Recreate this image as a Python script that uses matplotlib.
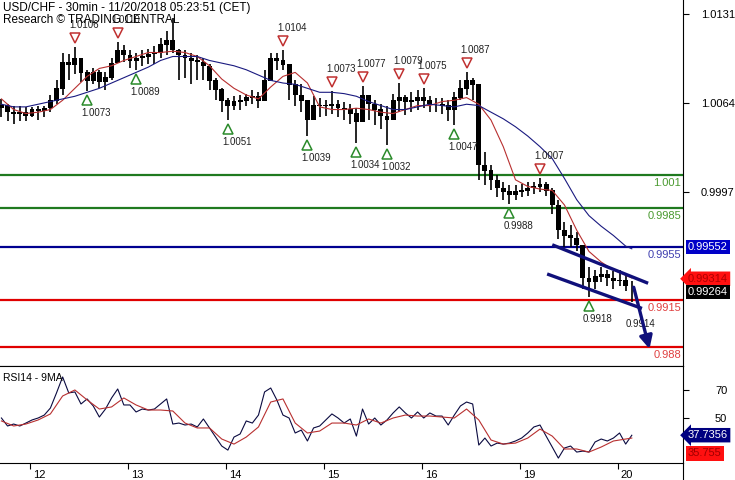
import numpy as np
import matplotlib
matplotlib.use("Agg")
import matplotlib.pyplot as plt
from matplotlib.transforms import ScaledTranslation, blended_transform_factory
from matplotlib.lines import Line2D

plt.rcParams["font.family"] = ["Liberation Sans", "DejaVu Sans"]

# USD/CHF 30-min bars, sampled every 3 bars (1.5 h). bar 14 = Nov 12 00:00
step = 3
open0 = 1.0060
high = [
    1.0067, 1.0063, 1.0062, 1.0062, 1.0061, 1.0061, 1.0062, 1.0062, 1.0070, 1.0081,
    1.0102, 1.0101, 1.0106, 1.0098, 1.0089, 1.0090, 1.0089, 1.0087, 1.0098, 1.0110,
    1.0108, 1.0104, 1.0102, 1.0104, 1.0105, 1.0107, 1.0113, 1.0118, 1.0128, 1.0105,
    1.0104, 1.0102, 1.0100, 1.0098, 1.0093, 1.0083, 1.0075, 1.0068, 1.0069, 1.0070,
    1.0071, 1.0074, 1.0072, 1.0089, 1.0102, 1.0102, 1.0104, 1.0093, 1.0081, 1.0078,
    1.0066, 1.0069, 1.0068, 1.0066, 1.0073, 1.0066, 1.0065, 1.0063, 1.0060, 1.0077,
    1.0070, 1.0066, 1.0063, 1.0062, 1.0071, 1.0079, 1.0070, 1.0072, 1.0074, 1.0075,
    1.0069, 1.0068, 1.0068, 1.0066, 1.0072, 1.0081, 1.0087, 1.0083, 1.0078, 1.0027,
    1.0017, 1.0010, 1.0004, 1.0002, 1.0002, 1.0003, 1.0004, 1.0004, 1.0007, 1.0004,
    1.0000, 0.9991, 0.9974, 0.9972, 0.9967, 0.9957, 0.9940, 0.9938, 0.9940, 0.9938,
    0.9937, 0.9938, 0.9935, 0.9930]
low = [
    1.0053, 1.0050, 1.0048, 1.0050, 1.0050, 1.0053, 1.0051, 1.0053, 1.0057, 1.0063,
    1.0070, 1.0081, 1.0086, 1.0080, 1.0073, 1.0078, 1.0075, 1.0074, 1.0081, 1.0094,
    1.0095, 1.0090, 1.0089, 1.0092, 1.0093, 1.0093, 1.0098, 1.0100, 1.0102, 1.0081,
    1.0083, 1.0078, 1.0081, 1.0081, 1.0074, 1.0066, 1.0057, 1.0051, 1.0059, 1.0059,
    1.0062, 1.0063, 1.0060, 1.0066, 1.0081, 1.0089, 1.0089, 1.0066, 1.0062, 1.0057,
    1.0039, 1.0051, 1.0053, 1.0054, 1.0056, 1.0053, 1.0051, 1.0048, 1.0034, 1.0050,
    1.0051, 1.0047, 1.0044, 1.0032, 1.0051, 1.0057, 1.0055, 1.0057, 1.0059, 1.0060,
    1.0057, 1.0057, 1.0056, 1.0050, 1.0047, 1.0066, 1.0070, 1.0066, 1.0006, 1.0002,
    0.9998, 0.9993, 0.9991, 0.9988, 0.9991, 0.9993, 0.9994, 0.9995, 0.9997, 0.9994,
    0.9980, 0.9961, 0.9955, 0.9955, 0.9952, 0.9924, 0.9918, 0.9924, 0.9929, 0.9926,
    0.9924, 0.9926, 0.9922, 0.9914]
close = [
    1.0062, 1.0057, 1.0056, 1.0057, 1.0054, 1.0059, 1.0058, 1.0060, 1.0066, 1.0075,
    1.0095, 1.0093, 1.0098, 1.0087, 1.0081, 1.0087, 1.0080, 1.0083, 1.0094, 1.0104,
    1.0100, 1.0096, 1.0098, 1.0099, 1.0101, 1.0102, 1.0108, 1.0111, 1.0104, 1.0100,
    1.0098, 1.0096, 1.0095, 1.0092, 1.0081, 1.0074, 1.0066, 1.0062, 1.0065, 1.0066,
    1.0068, 1.0069, 1.0066, 1.0081, 1.0098, 1.0096, 1.0093, 1.0078, 1.0070, 1.0066,
    1.0051, 1.0062, 1.0062, 1.0062, 1.0063, 1.0060, 1.0059, 1.0056, 1.0050, 1.0070,
    1.0063, 1.0059, 1.0054, 1.0051, 1.0066, 1.0068, 1.0065, 1.0066, 1.0068, 1.0066,
    1.0063, 1.0063, 1.0062, 1.0059, 1.0068, 1.0075, 1.0081, 1.0078, 1.0017, 1.0013,
    1.0006, 1.0000, 0.9997, 0.9995, 0.9997, 0.9998, 1.0000, 1.0001, 1.0003, 0.9998,
    0.9987, 0.9968, 0.9964, 0.9962, 0.9957, 0.9932, 0.9929, 0.9933, 0.9935, 0.9932,
    0.9930, 0.9930, 0.9926, 0.9926]

# moving averages, read every 6 bars plus the last bar
ma_red = [
    1.0067, 1.0059, 1.0056, 1.0057, 1.0059, 1.0066, 1.0075, 1.0084, 1.0090, 1.0092,
    1.0096, 1.0099, 1.0102, 1.0102, 1.0103, 1.0102, 1.0099, 1.0092, 1.0082, 1.0075,
    1.0070, 1.0067, 1.0076, 1.0084, 1.0087, 1.0079, 1.0061, 1.0059, 1.0059, 1.0060,
    1.0059, 1.0057, 1.0056, 1.0059, 1.0062, 1.0062, 1.0065, 1.0066, 1.0068, 1.0063,
    1.0051, 1.0031, 1.0006, 1.0001, 0.9999, 0.9998, 0.9987, 0.9968, 0.9952, 0.9944,
    0.9938, 0.9934, 0.9932]
ma_blue = [
    1.0063, 1.0061, 1.0061, 1.0063, 1.0065, 1.0067, 1.0069, 1.0072, 1.0075, 1.0079,
    1.0083, 1.0087, 1.0091, 1.0096, 1.0099, 1.0099, 1.0099, 1.0096, 1.0094, 1.0092,
    1.0089, 1.0085, 1.0081, 1.0079, 1.0078, 1.0075, 1.0072, 1.0072, 1.0071, 1.0069,
    1.0065, 1.0062, 1.0059, 1.0059, 1.0061, 1.0063, 1.0062, 1.0061, 1.0063, 1.0062,
    1.0057, 1.0052, 1.0046, 1.0039, 1.0031, 1.0022, 1.0007, 0.9991, 0.9979, 0.9971,
    0.9964, 0.9956, 0.9954]

# RSI14 (every 3 bars) and its 9MA (every 6 bars plus last)
rsi = [
    50.0, 44.3, 45.7, 44.3, 46.4, 48.6, 50.0, 52.1, 57.1, 67.9,
    79.3, 67.9, 68.6, 60.0, 63.6, 58.6, 50.7, 56.4, 64.3, 70.7,
    59.3, 59.3, 54.3, 56.4, 55.7, 56.4, 60.0, 63.6, 45.7, 46.4,
    45.0, 45.7, 43.6, 49.3, 42.9, 36.4, 30.0, 27.1, 36.4, 38.6,
    47.9, 46.4, 52.1, 68.6, 71.4, 62.9, 52.1, 50.0, 39.3, 41.4,
    33.6, 42.9, 44.3, 48.6, 52.9, 50.0, 46.4, 49.3, 37.1, 56.4,
    45.7, 50.0, 45.0, 48.6, 53.6, 57.9, 53.6, 50.0, 54.3, 50.0,
    53.6, 51.4, 51.4, 45.0, 52.1, 58.6, 61.4, 60.0, 30.7, 35.7,
    30.0, 32.1, 31.4, 32.1, 33.6, 35.7, 39.3, 43.6, 45.0, 37.1,
    29.3, 21.4, 28.6, 30.0, 25.7, 26.4, 25.7, 32.9, 35.0, 33.6,
    35.7, 39.3, 31.4, 37.7]
rsi_ma = [
    47.9, 44.3, 45.7, 48.6, 52.9, 65.7, 70.0, 62.9, 56.4, 57.9,
    64.3, 59.3, 55.7, 55.7, 55.0, 46.4, 42.9, 42.9, 35.0, 31.4,
    36.4, 43.6, 61.4, 63.6, 46.4, 39.3, 40.7, 46.4, 46.4, 45.0,
    49.3, 46.4, 50.0, 52.1, 51.4, 51.4, 50.7, 50.0, 56.4, 48.6,
    34.3, 31.4, 32.1, 35.7, 42.1, 37.1, 27.9, 27.9, 25.7, 29.3,
    33.6, 35.0, 35.7]

day_labels = ["12", "13", "14", "15", "16", "19", "20"]
day_start = [14, 62, 110, 158, 206, 254, 302]

levels = [1.001, 0.9985, 0.9955, 0.9915, 0.988]
level_text = ["1.001", "0.9985", "0.9955", "0.9915", "0.988"]
level_line_col = ["#1f7a1f", "#1f7a1f", "#000090", "#e00000", "#e00000"]
level_text_col = ["#4a9a30", "#4a9a30", "#4040b0", "#e04040", "#e04040"]

piv_hi_bar = [36, 57, 138, 162, 177, 195, 207, 228, 264]
piv_hi_val = [1.0106, 1.0110, 1.0104, 1.0073, 1.0077, 1.0079, 1.0075, 1.0087, 1.0007]
piv_lo_bar = [42, 66, 111, 150, 174, 189, 222, 249, 288]
piv_lo_val = [1.0073, 1.0089, 1.0051, 1.0039, 1.0034, 1.0032, 1.0047, 0.9988, 0.9918]
last_low_bar, last_low_val = 309, 0.9914

chan_up_x, chan_up_y = [270, 317], [0.9957, 0.9928]
chan_lo_x, chan_lo_y = [267.5, 314], [0.9935, 0.9909]
arrow_x, arrow_y = [309.6, 318], [0.9927, 0.98765]

last_close, last_red, last_blue = 0.99264, 0.99314, 0.99552
last_rsi, last_rsi_ma = 37.7356, 35.755

navy = "#10107a"
W, H = 735, 480
fig = plt.figure(figsize=(W / 100, H / 100), dpi=100)
px = lambda v: v / 100

ax = fig.add_axes([0, (H - 366) / H, 683 / W, 366 / H])
ax2 = fig.add_axes([0, (H - 463) / H, 683 / W, 97 / H])

bars = np.arange(len(close)) * step
op = np.r_[open0, close[:-1]]
cl = np.array(close)
ma_x = np.r_[np.arange(len(ma_red) - 1) * 2 * step, bars[-1]]

# candles (filled black, like the dense bar mass of the original)
ax.vlines(bars, low, high, color="black", lw=1.2, zorder=3)
ax.bar(bars, np.abs(cl - op) + 0.00004, bottom=np.minimum(op, cl) - 0.00002,
       width=2.4, color="black", lw=0, zorder=4)

ax.plot(ma_x, ma_red, color="#b83030", lw=0.8, zorder=5)
ax.plot(ma_x, ma_blue, color="#1a1a80", lw=0.8, zorder=5)

for lv, t, lc, tc in zip(levels, level_text, level_line_col, level_text_col):
    ax.axhline(lv, color=lc, lw=1.6, zorder=2)
    ax.annotate(t, xy=(1, lv), xycoords=("axes fraction", "data"),
                xytext=(-2, -3), textcoords="offset pixels", ha="right", va="top",
                color=tc, fontsize=8)

# pivots
up_off = ax.transData + ScaledTranslation(0, px(9), fig.dpi_scale_trans)
dn_off = ax.transData + ScaledTranslation(0, -px(9), fig.dpi_scale_trans)
ax.plot(piv_hi_bar, piv_hi_val, "v", ms=7, mfc="white", mec="#c03030", mew=1.1,
        transform=up_off, zorder=6)
ax.plot(piv_lo_bar, piv_lo_val, "^", ms=7, mfc="white", mec="#2a8a2a", mew=1.1,
        transform=dn_off, zorder=6)
for b, v in zip(piv_hi_bar, piv_hi_val):
    ax.annotate(f"{v:.4f}", (b, v), xytext=(-6, 17), textcoords="offset pixels",
                ha="left", va="bottom", fontsize=7, color="#202020", zorder=7)
for b, v in zip(piv_lo_bar + [last_low_bar], piv_lo_val + [last_low_val]):
    ax.annotate(f"{v:.4f}", (b, v), xytext=(-6, -17), textcoords="offset pixels",
                ha="left", va="top", fontsize=7, color="#202020", zorder=7)

# channel and projection arrow
ax.plot(chan_up_x, chan_up_y, color=navy, lw=2.4, solid_capstyle="butt", zorder=7)
ax.plot(chan_lo_x, chan_lo_y, color=navy, lw=2.4, solid_capstyle="butt", zorder=7)
ax.annotate("", xy=(arrow_x[1], arrow_y[1]), xytext=(arrow_x[0], arrow_y[0]),
            arrowprops=dict(arrowstyle="-|>", color=navy, lw=2.4, mutation_scale=19),
            zorder=8)

ax.set_xlim(-0.7, 334.1)
ax.set_ylim(0.98656, 1.01416)
ax.set_xticks([])
ax.yaxis.tick_right()
ax.set_yticks([0.9997, 1.0064, 1.0131], ["0.9997", "1.0064", "1.0131"])
ax.tick_params(axis="y", direction="out", length=4, width=0.8, pad=9, labelsize=8)
for s in ["top", "left"]:
    ax.spines[s].set_visible(False)

# right price tags
bt = blended_transform_factory(ax.transAxes, ax.transData)
tag_off = ScaledTranslation(px(5), 0, fig.dpi_scale_trans)
ax.text(1, last_blue, "0.99552", transform=bt + tag_off, ha="left", va="center",
        fontsize=8, color="white", clip_on=False,
        bbox=dict(boxstyle="square,pad=0.2", fc="#0000c8", ec="none"))
ax.text(1, last_red, "0.99314", transform=bt + tag_off, ha="left", va="center",
        fontsize=8, color="#b00000", clip_on=False,
        bbox=dict(boxstyle="larrow,pad=0.2", fc="#ff1010", ec="none"))
ax.text(1, last_close - 0.0005, "0.99264", transform=bt + tag_off, ha="left",
        va="center", fontsize=8, color="white", clip_on=False,
        bbox=dict(boxstyle="square,pad=0.2", fc="black", ec="none"))

# RSI panel
ax2.plot(bars, rsi, color="#0a0a40", lw=0.8)
ax2.plot(ma_x, rsi_ma, color="#b83030", lw=0.8)
ax2.set_xlim(-0.7, 334.1)
ax2.set_ylim(17.9, 87.1)
ax2.yaxis.tick_right()
ax2.set_yticks([50, 70], ["50", "70"])
ax2.tick_params(axis="y", direction="out", length=4, width=0.8, pad=19, labelsize=8)
ax2.spines["left"].set_visible(False)
ax2.set_xticks(day_start, day_labels)
ax2.tick_params(axis="x", direction="out", length=4, width=0.8, pad=1, labelsize=8)
for lab in ax2.get_xticklabels():
    lab.set_horizontalalignment("left")
    lab.set_transform(lab.get_transform() + ScaledTranslation(px(3), 0, fig.dpi_scale_trans))
ax2.text(0.004, 0.88, "RSI14 - 9MA", transform=ax2.transAxes, fontsize=7.5,
         va="center", ha="left")
bt2 = blended_transform_factory(ax2.transAxes, ax2.transData)
ax2.text(1, last_rsi, "37.7356", transform=bt2 + tag_off, ha="left", va="center",
         fontsize=8, color="white", clip_on=False,
         bbox=dict(boxstyle="larrow,pad=0.2", fc="#000080", ec="none"))
ax2.text(1, last_rsi_ma - 11, "35.755", transform=bt2 + tag_off, ha="left",
         va="center", fontsize=8, color="#a00000", clip_on=False,
         bbox=dict(boxstyle="square,pad=0.2", fc="#ff1010", ec="none"))

fig.add_artist(Line2D([683 / W, 683 / W], [0, 17 / H], color="black", lw=0.8))

fig.text(3 / W, 1 - 8 / H, "USD/CHF - 30min - 11/20/2018 05:23:51 (CET)",
         fontsize=8.5, va="center", ha="left")
fig.text(3 / W, 1 - 20 / H, "Research \u00a9 TRADING CENTRAL",
         fontsize=8.5, va="center", ha="left")

fig.savefig("out.png", dpi=100)
